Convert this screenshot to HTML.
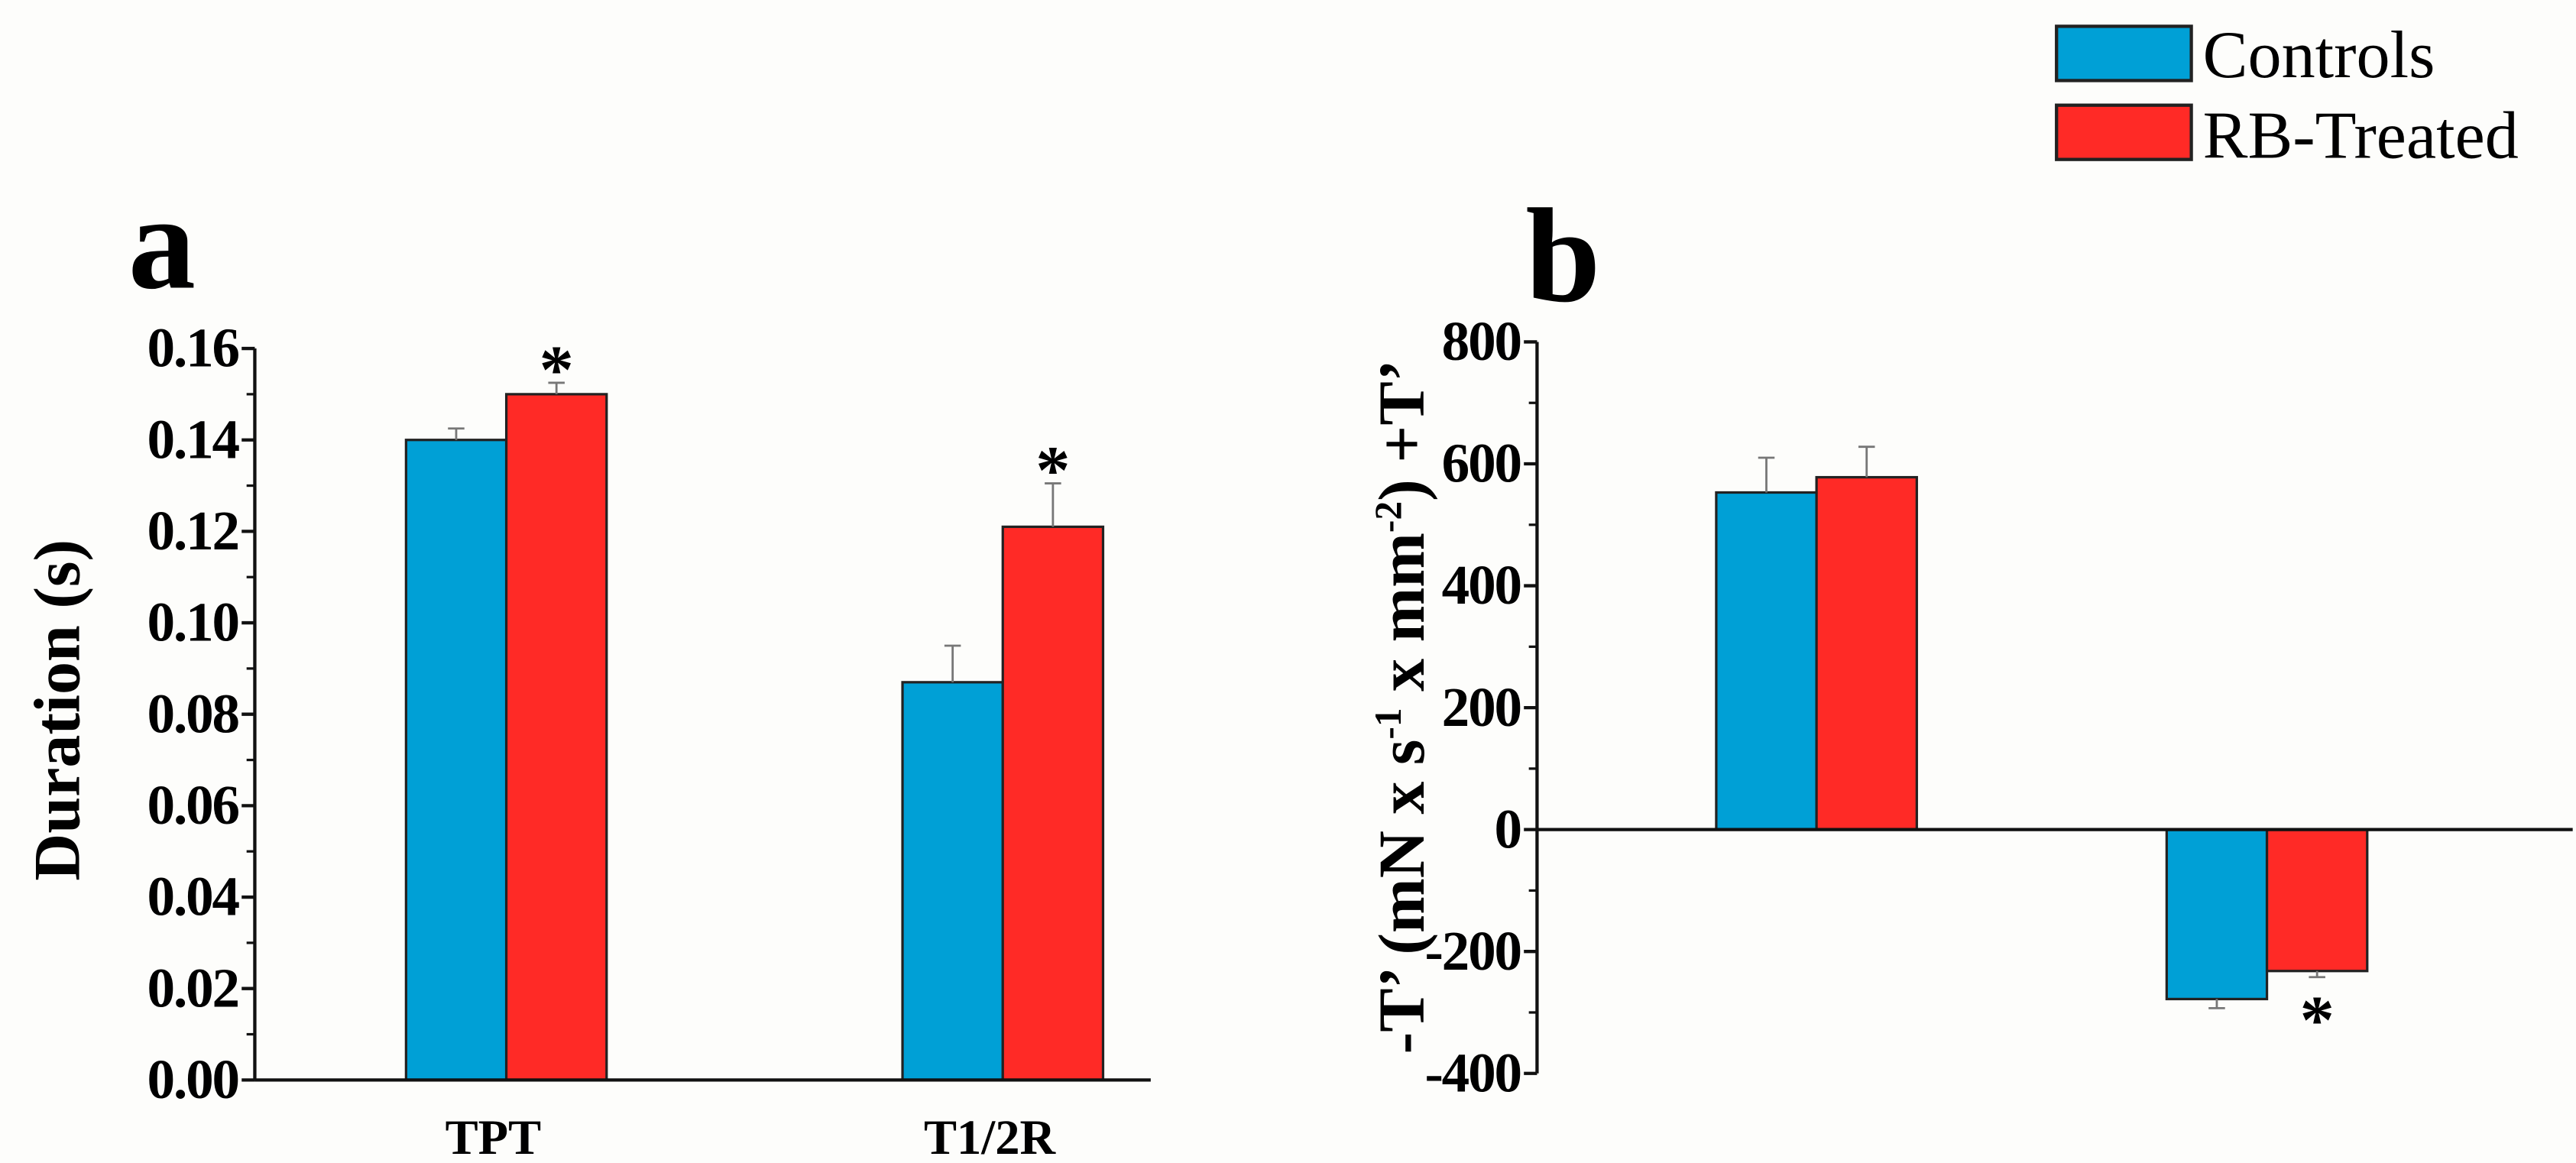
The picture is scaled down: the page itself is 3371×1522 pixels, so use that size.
<!DOCTYPE html>
<html><head><meta charset="utf-8"><style>
html,body{margin:0;padding:0;background:#fdfdfb;}
svg{display:block;font-family:"Liberation Serif",serif;}
</style></head><body>
<svg id="fig" width="3371" height="1522" viewBox="0 0 1567 707.5" xmlns="http://www.w3.org/2000/svg">
<rect x="0" y="0" width="1567" height="707.5" fill="#fdfdfb"/>
<g>
<rect x="1251" y="16" width="82" height="33" fill="#00a0d6" stroke="#222" stroke-width="2"/>
<text x="1340" y="47" font-size="41">Controls</text>
<rect x="1251" y="64" width="82" height="33" fill="#ff2a26" stroke="#222" stroke-width="2"/>
<text x="1340" y="96" font-size="41">RB-Treated</text>
</g>
<text x="78" y="175" font-size="82" font-weight="bold">a</text>
<text x="928" y="183" font-size="82" font-weight="bold">b</text>
<g id="pa"></g>
<g id="pb"></g>
</svg>
<script>
const NS="http://www.w3.org/2000/svg";
// Panel a data
const aCategories=["TPT","T1/2R"];
const aControls=[0.140,0.087];
const aControlsErr=[0.0025,0.008];
const aTreated=[0.150,0.121];
const aTreatedErr=[0.0025,0.0095];
const aSig=[true,true];
const aTicks=[0,0.02,0.04,0.06,0.08,0.10,0.12,0.14,0.16];
const aTickLabels=["0.00","0.02","0.04","0.06","0.08","0.10","0.12","0.14","0.16"];
// Panel b data
const bCategories=["-T'","+T'"];
const bControls=[553,-278];
const bControlsErr=[57,15];
const bTreated=[578,-232];
const bTreatedErr=[50,10];
const bSig=[false,true];
const bTicks=[-400,-200,0,200,400,600,800];
const bTickLabels=["-400","-200","0","200","400","600","800"];

function mk(parent,tag,attrs,txt){const e=document.createElementNS(NS,tag);for(const k in attrs)e.setAttribute(k,attrs[k]);if(txt!==undefined)e.textContent=txt;parent.appendChild(e);return e;}

function drawPanel(g,o){
  const y=v=>o.y0+(v-o.vmin)/(o.vmax-o.vmin)*(o.y1-o.y0);
  const baseY=y(o.base);
  let ax=mk(g,'line',{x1:o.ax,y1:y(o.vmax),x2:o.ax,y2:y(o.vmin),stroke:'#111','stroke-width':2});
  
  
  o.ticks.forEach((t,i)=>{
    const l=mk(g,'line',{x1:o.ax-8,y1:y(t),x2:o.ax,y2:y(t),stroke:'#111','stroke-width':2});
    
    
    const tx=mk(g,'text',{x:o.ax-10,y:y(t)+11,'font-size':34,'font-weight':'bold','text-anchor':'end','letter-spacing':-1},o.labels[i]);
    
    
    if(i<o.ticks.length-1){const m=(t+o.ticks[i+1])/2;
      const ml=mk(g,'line',{x1:o.ax-5,y1:y(m),x2:o.ax,y2:y(m),stroke:'#111','stroke-width':1.5});
      
      }
  });
  const yl=mk(g,'text',{x:0,y:0,'font-size':o.tfs,'font-weight':'bold','text-anchor':'middle',transform:`translate(${o.labx},${o.laby}) rotate(-90)`});
  
  
  yl.innerHTML=o.title;
  o.cats.forEach((c,i)=>{
    const cx=o.cx[i];
    [[o.ctrl,o.ctrlE,'#00a0d6',cx-o.bw,'controls'],[o.trt,o.trtE,'#ff2a26',cx,'treated']].forEach(([vals,errs,col,x0,nm],j)=>{
      const v=vals[i],yt=y(v);
      const r=mk(g,'rect',{x:x0,y:Math.min(yt,baseY),width:o.bw,height:Math.abs(baseY-yt),fill:col,stroke:'#222','stroke-width':1.5});
      
      
      const sgn=v>=0?1:-1;const ye=y(v+sgn*errs[i]);const xm=x0+o.bw/2;
      const e=mk(g,'path',{d:`M${xm},${yt}V${ye}M${xm-5},${ye}H${xm+5}`,stroke:'#777','stroke-width':1.3,fill:'none'});
      
      
    });
    if(o.sig[i]){const v=o.trt[i],sgn=v>=0?1:-1;const ye=y(v+sgn*o.trtE[i]);
      const s=mk(g,'text',{x:cx+o.bw/2,y:sgn>0?ye+6:ye+40,'font-size':42,'font-weight':'bold','text-anchor':'middle'},'*');
      
      }
    if(o.showCat){const t=mk(g,'text',{x:cx-8,y:o.catY,'font-size':30,'font-weight':'bold','text-anchor':'middle'},c);
      
      }
  });
  const xa=mk(g,'line',{x1:o.ax,y1:baseY,x2:o.xend,y2:baseY,stroke:'#111','stroke-width':2});
  
  
}
drawPanel(document.getElementById('pa'),{p:'a',ax:155,xend:700,y0:657,y1:212,vmin:0,vmax:0.16,base:0,ticks:aTicks,labels:aTickLabels,
  cats:aCategories,ctrl:aControls,ctrlE:aControlsErr,trt:aTreated,trtE:aTreatedErr,sig:aSig,cx:[308,610],bw:61,showCat:true,catY:702,
  labx:48,laby:432,tfs:40,title:'Duration (s)'});
drawPanel(document.getElementById('pb'),{p:'b',ax:935,xend:1565,y0:653,y1:208,vmin:-400,vmax:800,base:0,ticks:bTicks,labels:bTickLabels,
  cats:bCategories,ctrl:bControls,ctrlE:bControlsErr,trt:bTreated,trtE:bTreatedErr,sig:bSig,cx:[1105,1379],bw:61,showCat:false,catY:0,
  labx:866,laby:430,tfs:40,title:"-T’ (mN x s<tspan dy='-14' font-size='23'>-1</tspan><tspan dy='14'> x mm</tspan><tspan dy='-14' font-size='23'>-2</tspan><tspan dy='14'>) +T’</tspan>"});
</script>
</body></html>
